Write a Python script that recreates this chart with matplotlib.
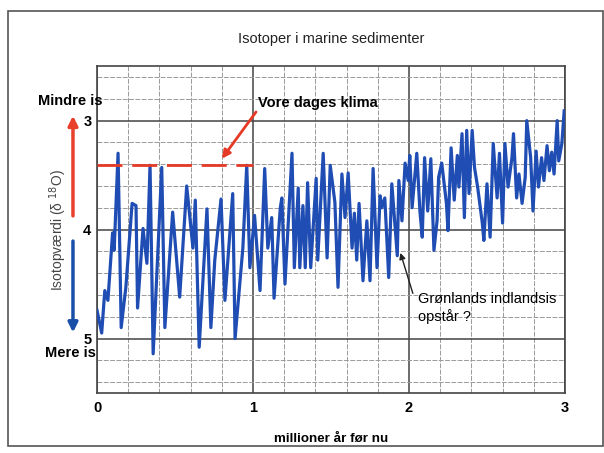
import matplotlib.pyplot as plt
import matplotlib.patches as patches
import numpy as np

plt.rcParams['font.family'] = ['Liberation Sans', 'DejaVu Sans']

# aflæste punkter (millioner år før nu, delta 18O)
tid = [0.00, 0.03, 0.05, 0.07, 0.10, 0.11, 0.135, 0.155, 0.185, 0.225,
       0.25, 0.26, 0.295, 0.32, 0.34, 0.36, 0.415, 0.435, 0.485, 0.53,
       0.575, 0.615, 0.63, 0.655, 0.705, 0.73, 0.755, 0.795, 0.82, 0.87,
       0.885, 0.935, 0.96, 0.98, 1.01, 1.045, 1.075, 1.095, 1.12, 1.135,
       1.175, 1.185, 1.205, 1.25, 1.265, 1.29, 1.30, 1.32, 1.335, 1.35,
       1.37, 1.405, 1.415, 1.45, 1.475, 1.495, 1.525, 1.545, 1.57, 1.59,
       1.61, 1.635, 1.65, 1.665, 1.68, 1.705, 1.73, 1.75, 1.77, 1.795,
       1.815, 1.825, 1.845, 1.87, 1.89, 1.925, 1.935, 1.955, 1.975, 1.995,
       2.005, 2.02, 2.05, 2.07, 2.085, 2.10, 2.12, 2.14, 2.16, 2.18,
       2.19, 2.21, 2.24, 2.25, 2.27, 2.29, 2.31, 2.32, 2.34, 2.355,
       2.37, 2.385, 2.405, 2.42, 2.44, 2.47, 2.48, 2.50, 2.52, 2.54,
       2.565, 2.58, 2.60, 2.615, 2.635, 2.66, 2.67, 2.69, 2.705, 2.725,
       2.745, 2.755, 2.78, 2.795, 2.815, 2.83, 2.85, 2.865, 2.885, 2.90,
       2.915, 2.93, 2.95, 2.96, 2.98, 2.995]
isotop = [4.74, 4.95, 4.56, 4.65, 4.03, 4.19, 3.30, 4.90, 4.53, 3.76,
          3.78, 4.72, 3.99, 4.31, 3.41, 5.14, 3.43, 4.90, 3.84, 4.62,
          3.60, 4.17, 3.73, 5.08, 3.81, 4.90, 4.28, 3.72, 4.65, 3.67,
          5.00, 4.17, 3.41, 4.35, 3.87, 4.56, 3.44, 4.17, 3.89, 4.63,
          3.80, 3.71, 4.50, 3.30, 4.35, 3.62, 4.35, 3.78, 4.35, 3.57,
          4.35, 3.53, 4.28, 3.30, 4.26, 3.41, 3.75, 4.53, 3.49, 3.89,
          3.48, 4.17, 3.85, 4.28, 3.76, 4.47, 3.92, 4.47, 3.44, 4.35,
          3.69, 3.80, 3.71, 4.44, 3.58, 4.24, 3.55, 3.92, 3.39, 3.55,
          3.32, 3.80, 3.30, 3.83, 4.07, 3.34, 3.83, 3.35, 4.19, 3.92,
          3.52, 3.39, 3.76, 4.01, 3.25, 3.73, 3.32, 3.61, 3.12, 3.89,
          3.09, 3.67, 3.09, 3.43, 3.61, 3.94, 4.10, 3.58, 4.07, 3.21,
          3.71, 3.30, 3.94, 3.21, 3.61, 3.34, 3.12, 3.71, 3.49, 3.76,
          3.52, 3.00, 3.34, 3.83, 3.28, 3.61, 3.34, 3.55, 3.23, 3.46,
          3.29, 3.49, 3.00, 3.37, 3.21, 2.91]

nutid_niveau = 3.41
x_ticks = [0, 1, 2, 3]
y_ticks = [3, 4, 5]

fig = plt.figure(figsize=(6.04, 4.53), dpi=100)
ax = fig.add_axes([0.1606, 0.1325, 0.7748, 0.7215])

# ramme om hele figuren
fig.patches.append(patches.Rectangle((0.013, 0.015), 0.985, 0.961, transform=fig.transFigure,
                                     fill=False, edgecolor='#555555', linewidth=1.2))

ax.set_xlim(0, 3)
ax.set_ylim(5.5, 2.5)

# gitter
ax.set_xticks(x_ticks)
ax.set_yticks(y_ticks)
ax.set_xticks(np.arange(0, 3.01, 0.2), minor=True)
ax.set_yticks(np.arange(2.6, 5.5, 0.2), minor=True)
ax.grid(True, which='major', color='#444444', linewidth=1.1)
ax.grid(True, which='minor', color='#9a9a9a', linewidth=0.7, linestyle=(0, (5, 1.5)))
ax.tick_params(which='both', length=0)
ax.tick_params(axis='x', pad=6)
ax.tick_params(axis='y', pad=4)
for lbl in ax.get_xticklabels() + ax.get_yticklabels():
    lbl.set_fontweight('bold')
    lbl.set_fontsize(10.5)
for s in ax.spines.values():
    s.set_color('#444444')
    s.set_linewidth(1.2)

# data
ax.plot(tid, isotop, color='#1f4db3', linewidth=2.3, zorder=3)
ax.hlines(nutid_niveau, 0, 1, color='#e53a25', linewidth=2, linestyles=(0, (9, 3.5)), zorder=4)

ax.set_title('Isotoper i marine sedimenter', fontsize=10.5, color='#222222', pad=17)
ax.set_xlabel('millioner år før nu', fontsize=9.6, fontweight='bold', labelpad=13)
ax.set_ylabel('Isotopværdi (δ $^{18}$O)', fontsize=10, color='#444444', labelpad=10)

# pile ved y-aksen
ax.annotate('', xy=(-0.154, 2.93), xytext=(-0.154, 3.90), annotation_clip=False,
            arrowprops=dict(arrowstyle='-|>', color='#e8402a', lw=2.5, mutation_scale=14))
ax.annotate('', xy=(-0.154, 4.97), xytext=(-0.154, 4.08), annotation_clip=False,
            arrowprops=dict(arrowstyle='-|>', color='#1a4fa8', lw=2.5, mutation_scale=14))
ax.text(-0.173, 2.82, 'Mindre is', ha='center', va='center', fontsize=10.5, fontweight='bold',
        clip_on=False)
ax.text(-0.173, 5.13, 'Mere is', ha='center', va='center', fontsize=10.5, fontweight='bold',
        clip_on=False)

# kommentarer
ax.text(1.03, 2.84, 'Vore dages klima', ha='left', va='center', fontsize=10.5, fontweight='bold',
        zorder=5)
ax.annotate('', xy=(0.79, 3.37), xytext=(1.03, 2.90),
            arrowprops=dict(arrowstyle='-|>', color='#e53a25', lw=2, mutation_scale=12), zorder=5)
ax.text(2.06, 4.57, 'Grønlands indlandsis\nopstår ?', ha='left', va='top', fontsize=10.5,
        linespacing=1.25, zorder=5)
ax.annotate('', xy=(1.94, 4.19), xytext=(2.03, 4.61),
            arrowprops=dict(arrowstyle='-|>', color='#222222', lw=1, mutation_scale=9), zorder=5)

fig.savefig('out.png', dpi=100)
